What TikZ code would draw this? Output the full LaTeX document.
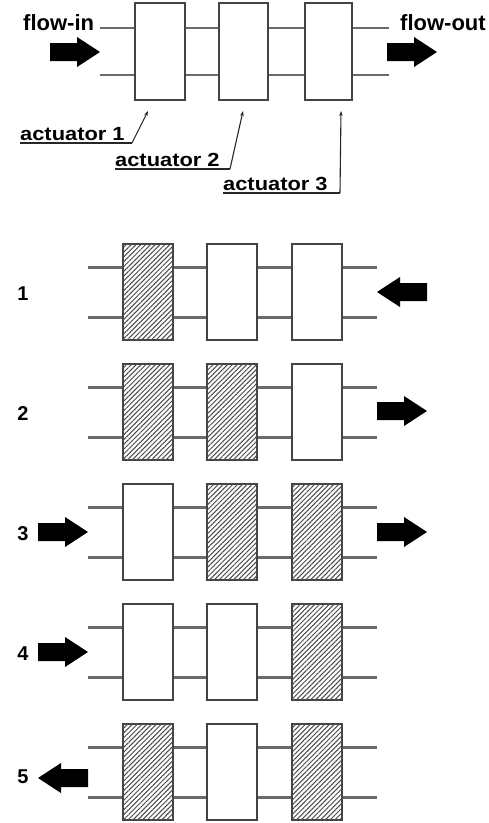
\documentclass[tikz,border=0pt]{standalone}
\usepackage{fontspec}
\setmainfont{Liberation Sans}
\usetikzlibrary{patterns.meta,arrows.meta}
\definecolor{pipe}{HTML}{6A6A6A}
\definecolor{edge}{HTML}{444444}
\definecolor{hatch}{HTML}{4A4A4A}
\tikzset{
  valve/.style={draw=edge, line width=2pt, fill=white, minimum width=50pt, minimum height=96pt, inner sep=0pt},
  shut/.style={postaction={pattern={Lines[angle=45,distance=3.4pt,line width=1pt]}, pattern color=hatch}},
  pipeline/.style={draw=pipe, line width=2.4pt},
  big/.style={font=\bfseries\fontsize{22}{24}\selectfont, inner sep=0pt},
  numlbl/.style={font=\bfseries\fontsize{20}{22}\selectfont, inner sep=0pt},
  actlbl/.style={font=\bfseries\fontsize{19}{21}\selectfont, inner sep=0pt, anchor=base west},
  leader/.style={draw=black!85, line width=1.1pt},
  leadertip/.style={leader, -{Stealth[length=5pt,width=3.5pt]}},
}
\newcommand{\rightblock}[2]{\fill (#1,#2-9) -- ++(27,0) -- ++(0,-6) -- ++(23,15) -- ++(-23,15) -- ++(0,-6) -- ++(-27,0) -- cycle;}
\newcommand{\leftblock}[2]{\fill (#1,#2) -- ++(23,-15) -- ++(0,6) -- ++(27,0) -- ++(0,18) -- ++(-27,0) -- ++(0,6) -- cycle;}
\begin{document}
\begin{tikzpicture}[x=1pt,y=-1pt]
\useasboundingbox (0,0) rectangle (488,823);
% ---------------- top section
\coordinate (tla) at (100,28); \coordinate (tra) at (389,28);
\coordinate (tlb) at (100,75); \coordinate (trb) at (389,75);
\draw[pipeline] (tla) -- (tra);
\draw[pipeline] (tlb) -- (trb);
\node[valve, minimum height=97pt] (t1) at (159.5,51.5) {};
\node[valve, minimum height=97pt, minimum width=49pt] (t2) at (243.5,51.5) {};
\node[valve, minimum height=97pt, minimum width=47pt] (t3) at (328,51.5) {};
\rightblock{50}{52}
\rightblock{387}{52}
\node[big, anchor=base west] (fin) at (23,30) {flow-in};
\node[big, anchor=base west] (fout) at (400,30) {flow-out};
% actuator labels
\node[actlbl] (a1) at (20,140) {\scalebox{1.15}[1]{actuator 1}};
\node[actlbl] (a2) at (115,166) {\scalebox{1.15}[1]{actuator 2}};
\node[actlbl] (a3) at (223,190) {\scalebox{1.15}[1]{actuator 3}};
\coordinate (u1s) at (20,143); \coordinate (u1e) at (132,143); \coordinate (p1) at (148,111);
\coordinate (u2s) at (115,169); \coordinate (u2e) at (230,169); \coordinate (p2) at (243,111);
\coordinate (u3s) at (223,193); \coordinate (u3e) at (340,193); \coordinate (p3) at (341,111);
\draw[leader] (u1s) -- (u1e);
\draw[leadertip] (u1e) -- (p1);
\draw[leader] (u2s) -- (u2e);
\draw[leadertip] (u2e) -- (p2);
\draw[leader] (u3s) -- (u3e);
\draw[leadertip] (u3e) -- (p3);
% ---------------- row 1 (top 244)
\coordinate (r1la) at (88,267.5); \coordinate (r1ra) at (377,267.5);
\coordinate (r1lb) at (88,317.5); \coordinate (r1rb) at (377,317.5);
\draw[pipeline] (r1la) -- (r1ra);
\draw[pipeline] (r1lb) -- (r1rb);
\node[valve, shut] (r1a) at (148,292) {};
\node[valve] (r1b) at (232,292) {};
\node[valve] (r1c) at (317,292) {};
\node[numlbl] (n1) at (23,294) {1};
\leftblock{377}{292}
% ---------------- row 2 (top 364)
\coordinate (r2la) at (88,387.5); \coordinate (r2ra) at (377,387.5);
\coordinate (r2lb) at (88,437.5); \coordinate (r2rb) at (377,437.5);
\draw[pipeline] (r2la) -- (r2ra);
\draw[pipeline] (r2lb) -- (r2rb);
\node[valve, shut] (r2a) at (148,412) {};
\node[valve, shut] (r2b) at (232,412) {};
\node[valve] (r2c) at (317,412) {};
\node[numlbl] (n2) at (23,414) {2};
\rightblock{377}{411}
% ---------------- row 3 (top 484)
\coordinate (r3la) at (88,507.5); \coordinate (r3ra) at (377,507.5);
\coordinate (r3lb) at (88,557.5); \coordinate (r3rb) at (377,557.5);
\draw[pipeline] (r3la) -- (r3ra);
\draw[pipeline] (r3lb) -- (r3rb);
\node[valve] (r3a) at (148,532) {};
\node[valve, shut] (r3b) at (232,532) {};
\node[valve, shut] (r3c) at (317,532) {};
\node[numlbl] (n3) at (23,534) {3};
\rightblock{38}{532}
\rightblock{377}{532}
% ---------------- row 4 (top 604)
\coordinate (r4la) at (88,627.5); \coordinate (r4ra) at (377,627.5);
\coordinate (r4lb) at (88,677.5); \coordinate (r4rb) at (377,677.5);
\draw[pipeline] (r4la) -- (r4ra);
\draw[pipeline] (r4lb) -- (r4rb);
\node[valve] (r4a) at (148,652) {};
\node[valve] (r4b) at (232,652) {};
\node[valve, shut] (r4c) at (317,652) {};
\node[numlbl] (n4) at (23,654) {4};
\rightblock{38}{652}
% ---------------- row 5 (top 724)
\coordinate (r5la) at (88,747.5); \coordinate (r5ra) at (377,747.5);
\coordinate (r5lb) at (88,797.5); \coordinate (r5rb) at (377,797.5);
\draw[pipeline] (r5la) -- (r5ra);
\draw[pipeline] (r5lb) -- (r5rb);
\node[valve, shut] (r5a) at (148,772) {};
\node[valve] (r5b) at (232,772) {};
\node[valve, shut] (r5c) at (317,772) {};
\node[numlbl] (n5) at (23,777) {5};
\leftblock{38}{778}
\end{tikzpicture}
\end{document}
